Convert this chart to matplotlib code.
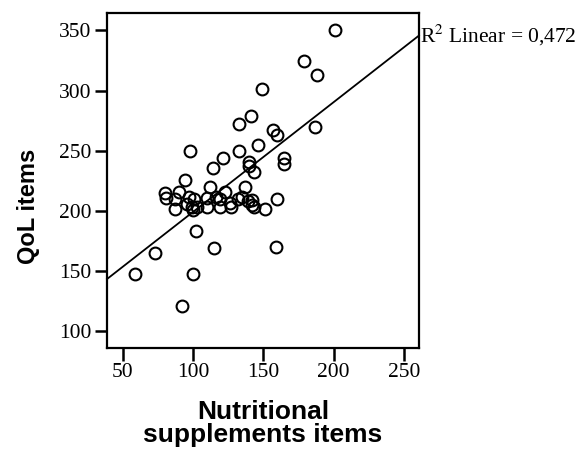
import numpy as np
import matplotlib
matplotlib.use("Agg")
import matplotlib.pyplot as plt

plt.rcParams["mathtext.fontset"] = "stix"

# Data
nutritional = [201, 179, 188, 149, 141, 133, 187, 157, 160, 146,
               133, 98, 121, 165, 165, 140, 140, 143, 114, 94,
               112, 137, 123, 80, 90, 81, 160,
               87, 87, 96, 99, 101, 103, 97, 110, 110, 116, 119, 119,
               126, 127, 132, 135, 139, 142, 142, 143, 151, 100,
               102, 115, 159, 73, 59, 100, 92]
qol = [350, 325, 313, 301, 279, 272, 270, 267, 263, 255,
       250, 250, 244, 244, 239, 241, 237, 232, 236, 226,
       220, 220, 216, 215, 216, 211, 210,
       202, 210, 206, 203, 210, 203, 212, 203, 211, 212, 203, 210,
       207, 203, 210, 212, 208, 209, 205, 203, 202, 201,
       183, 169, 170, 165, 148, 148, 121]

x_ticks = [50, 100, 150, 200, 250]
y_ticks = [100, 150, 200, 250, 300, 350]
r2_label = r"R$^{2}$ Linear = 0,472"
x_label = "Nutritional\nsupplements items"
y_label = "QoL items"

xlim = (38.9, 260.6)
ylim = (86.5, 364.2)

fig = plt.figure(figsize=(5.82, 4.54), dpi=100)
ax = fig.add_axes([107/582, 1 - 347.7/454, (419-107)/582, (347.7-13.3)/454])

ax.plot(nutritional, qol, linestyle="none", marker="o", markersize=8.5,
        markerfacecolor="none", markeredgecolor="black", markeredgewidth=1.5,
        zorder=3)

slope, intercept = np.polyfit(nutritional, qol, 1)
xs = np.array(xlim)
ax.plot(xs, slope * xs + intercept, color="black", linewidth=1.3, zorder=2,
        clip_on=False)

ax.set_xlim(*xlim)
ax.set_ylim(*ylim)
ax.set_xticks(x_ticks)
ax.set_yticks(y_ticks)

serif = ["Liberation Serif", "DejaVu Serif"]
for lab in ax.get_xticklabels() + ax.get_yticklabels():
    lab.set_fontfamily(serif)
    lab.set_fontsize(15.5)

ax.tick_params(direction="out", length=9, width=1.8, color="black", pad=2)
for s in ax.spines.values():
    s.set_linewidth(1.6)
    s.set_color("black")

ax.text(xlim[1] + 0.5, slope * xlim[1] + intercept, r2_label,
        fontfamily=serif, fontsize=15.5, ha="left", va="center")

ax.set_xlabel(x_label, fontfamily="Liberation Sans", fontweight="bold",
              fontsize=19, linespacing=0.95, labelpad=13)
ax.set_ylabel(y_label, fontfamily="Liberation Sans", fontweight="bold",
              fontsize=17)
ax.yaxis.set_label_coords(-0.215, 0.424)

fig.savefig("out.png", dpi=100, facecolor="white")
